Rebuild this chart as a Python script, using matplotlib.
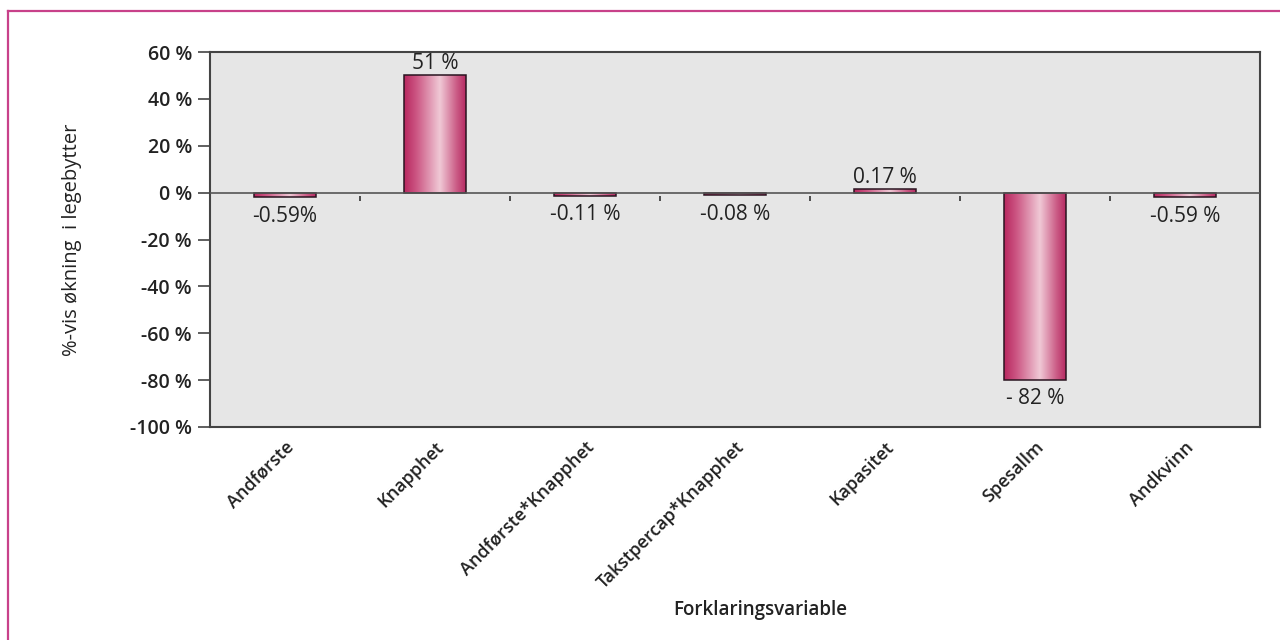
import numpy as np
import matplotlib
matplotlib.use("Agg")
import matplotlib.pyplot as plt
from matplotlib.colors import LinearSegmentedColormap
from matplotlib.lines import Line2D

categories = ["Andførste", "Knapphet", "Andførste*Knapphet", "Takstpercap*Knapphet",
              "Kapasitet", "Spesallm", "Andkvinn"]
values = [-2.0, 50.0, -1.5, -1.2, 1.5, -80.0, -2.0]
value_labels = ["-0.59%", "51 %", "-0.11 %", "-0.08 %", "0.17 %", "- 82 %", "-0.59 %"]
yticks = [60, 40, 20, 0, -20, -40, -60, -80, -100]
ytick_labels = ["60 %", "40 %", "20 %", "0 %", "-20 %", "-40 %", "-60 %", "-80 %", "-100 %"]
ylabel = "%-vis økning  i legebytter"
xlabel = "Forklaringsvariable"

plt.rcParams['font.family'] = ['Open Sans', 'DejaVu Sans']

fig = plt.figure(figsize=(12.8, 6.4), dpi=100)
ax = fig.add_axes([210/1280, 1-427/640, 1050/1280, (427-52)/640])
ax.set_facecolor('#E6E6E6')

x = np.arange(len(categories))
bars = ax.bar(x, values, width=0.41, color='none', edgecolor='#2a1420', linewidth=1.1, zorder=3)

cmap = LinearSegmentedColormap.from_list('pinkgrad', [
    (0.0, '#B8275F'), (0.2, '#CC5683'), (0.58, '#F0C9D6'), (0.85, '#CB5C86'), (1.0, '#B62A62')])
grad = np.linspace(0, 1, 256).reshape(1, -1)
for b in bars:
    x0, w = b.get_x(), b.get_width()
    y0, h = b.get_y(), b.get_height()
    im = ax.imshow(grad, cmap=cmap, aspect='auto', extent=[x0, x0 + w, y0, y0 + h],
                   zorder=2, interpolation='bicubic')
    im.set_clip_path(b)

ax.set_xlim(-0.5, len(categories) - 0.5)
ax.set_ylim(-100, 60)

ax.axhline(0, color='#555555', linewidth=1.2, zorder=4)
bounds = np.arange(len(categories) - 1) + 0.5
ax.vlines(bounds, -3.5, -1.5, color='#333333', linewidth=1.2, zorder=4)

ax.set_yticks(yticks)
ax.set_yticklabels(ytick_labels, fontsize=14, fontweight='semibold', color='#222222')
ax.tick_params(axis='y', direction='out', length=9, width=1.2, color='#444444', pad=4)
ax.set_xticks(x)
ax.set_xticklabels(categories, rotation=45, ha='right', rotation_mode='anchor',
                   fontsize=13, fontweight='semibold', color='#222222')
ax.tick_params(axis='x', length=0, pad=8)

for s in ax.spines.values():
    s.set_color('#444444')
    s.set_linewidth(1.5)

for b, lab, v in zip(bars, value_labels, values):
    cx = b.get_x() + b.get_width() / 2
    if v >= 0:
        ax.annotate(lab, (cx, v), xytext=(0, 1), textcoords='offset points',
                    ha='center', va='bottom', fontsize=15, color='#222222')
    else:
        ax.annotate(lab, (cx, v), xytext=(0, -6), textcoords='offset points',
                    ha='center', va='top', fontsize=15, color='#222222')

fig.text(72/1280, 1-240/640, ylabel, rotation=90, ha='center', va='center',
         fontsize=14.5, color='#222222')
fig.text(760/1280, 1-610/640, xlabel, ha='center', va='center',
         fontsize=13.5, fontweight='semibold', color='#222222')

fig.add_artist(Line2D([8/1280, 1.0], [1-11/640, 1-11/640], transform=fig.transFigure,
                      color='#C8418A', linewidth=1.6))
fig.add_artist(Line2D([8/1280, 8/1280], [0.0, 1-11/640], transform=fig.transFigure,
                      color='#C8418A', linewidth=1.6))

fig.savefig('out.png', dpi=100)
